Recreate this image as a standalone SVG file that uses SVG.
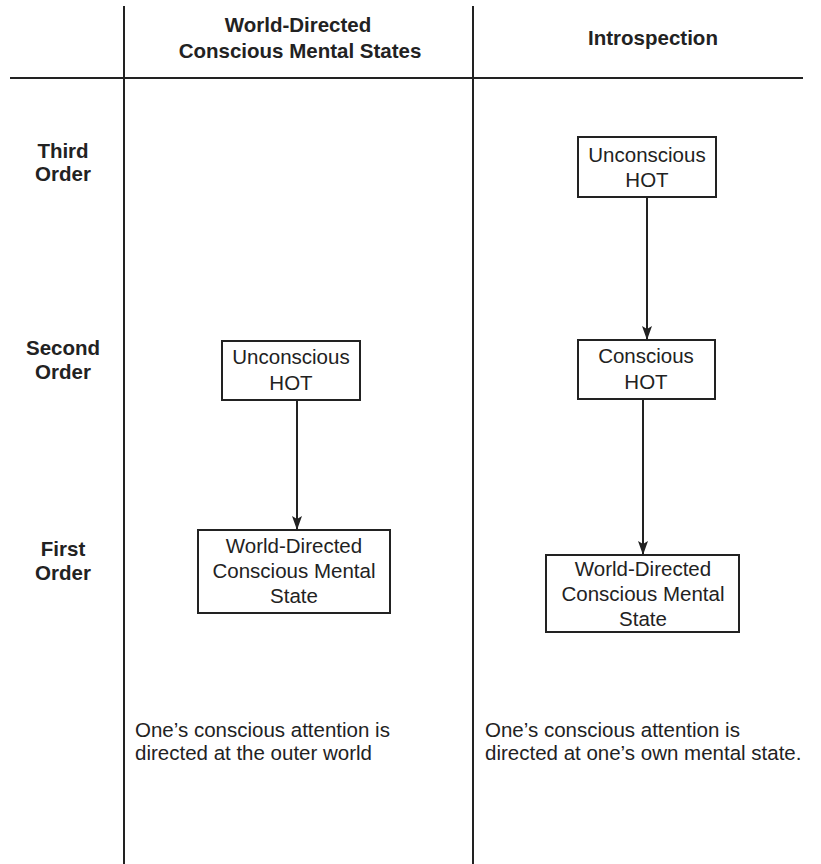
<svg xmlns="http://www.w3.org/2000/svg" width="821" height="864" viewBox="0 0 821 864">
<style>
.t{font-family:"Liberation Sans",Arial,Helvetica,sans-serif;font-size:20.5px;fill:#222}
.b{font-weight:bold}
.c{text-anchor:middle}
.box{fill:#fff;stroke:#222;stroke-width:2}
.ln{stroke:#222;stroke-width:2;fill:none}
</style>
<defs>
<marker id="ah" viewBox="0 0 14 10" refX="14" refY="5" markerWidth="14" markerHeight="10" markerUnits="userSpaceOnUse" orient="auto">
<path d="M0,0 L14,5 L0,10 L3,5 Z" fill="#222"/>
</marker>
</defs>
<g id="grid">
<line class="ln" x1="124" y1="6" x2="124" y2="864"/>
<line class="ln" x1="473" y1="6" x2="473" y2="864"/>
<line class="ln" x1="10" y1="78" x2="803" y2="78" stroke-width="2.5"/>
</g>
<g id="headers">
<text class="t b c" x="298" y="32">World-Directed</text>
<text class="t b c" x="300" y="58">Conscious Mental States</text>
<text class="t b c" x="653" y="45">Introspection</text>
</g>
<g id="rows">
<text class="t b c" x="63" y="158">Third</text>
<text class="t b c" x="63" y="181">Order</text>
<text class="t b c" x="63" y="355">Second</text>
<text class="t b c" x="63" y="379">Order</text>
<text class="t b c" x="63" y="556">First</text>
<text class="t b c" x="63" y="580">Order</text>
</g>
<g id="connectors">
<line class="ln" x1="297" y1="400" x2="297" y2="530" marker-end="url(#ah)"/>
<line class="ln" x1="647" y1="197" x2="647" y2="340" marker-end="url(#ah)"/>
<line class="ln" x1="643" y1="399" x2="643" y2="555" marker-end="url(#ah)"/>
</g>
<g id="L_unconscious">
<rect class="box" x="222" y="341" width="138" height="59"/>
<text class="t c" x="291" y="364">Unconscious</text>
<text class="t c" x="291" y="390">HOT</text>
</g>
<g id="L_world">
<rect class="box" x="198" y="530" width="192" height="83"/>
<text class="t c" x="294" y="553">World-Directed</text>
<text class="t c" x="294" y="578">Conscious Mental</text>
<text class="t c" x="294" y="603">State</text>
</g>
<g id="R_unconscious">
<rect class="box" x="578" y="137" width="138" height="60"/>
<text class="t c" x="647" y="162">Unconscious</text>
<text class="t c" x="647" y="187">HOT</text>
</g>
<g id="R_conscious">
<rect class="box" x="578" y="340" width="137" height="59"/>
<text class="t c" x="646" y="363">Conscious</text>
<text class="t c" x="646" y="389">HOT</text>
</g>
<g id="R_world">
<rect class="box" x="546" y="555" width="193" height="77"/>
<text class="t c" x="643" y="576">World-Directed</text>
<text class="t c" x="643" y="601">Conscious Mental</text>
<text class="t c" x="643" y="626">State</text>
</g>
<g id="notes">
<text class="t" x="135" y="737">One’s conscious attention is</text>
<text class="t" x="135" y="760">directed at the outer world</text>
<text class="t" x="485" y="737">One’s conscious attention is</text>
<text class="t" x="485" y="760">directed at one’s own mental state.</text>
</g>
</svg>
